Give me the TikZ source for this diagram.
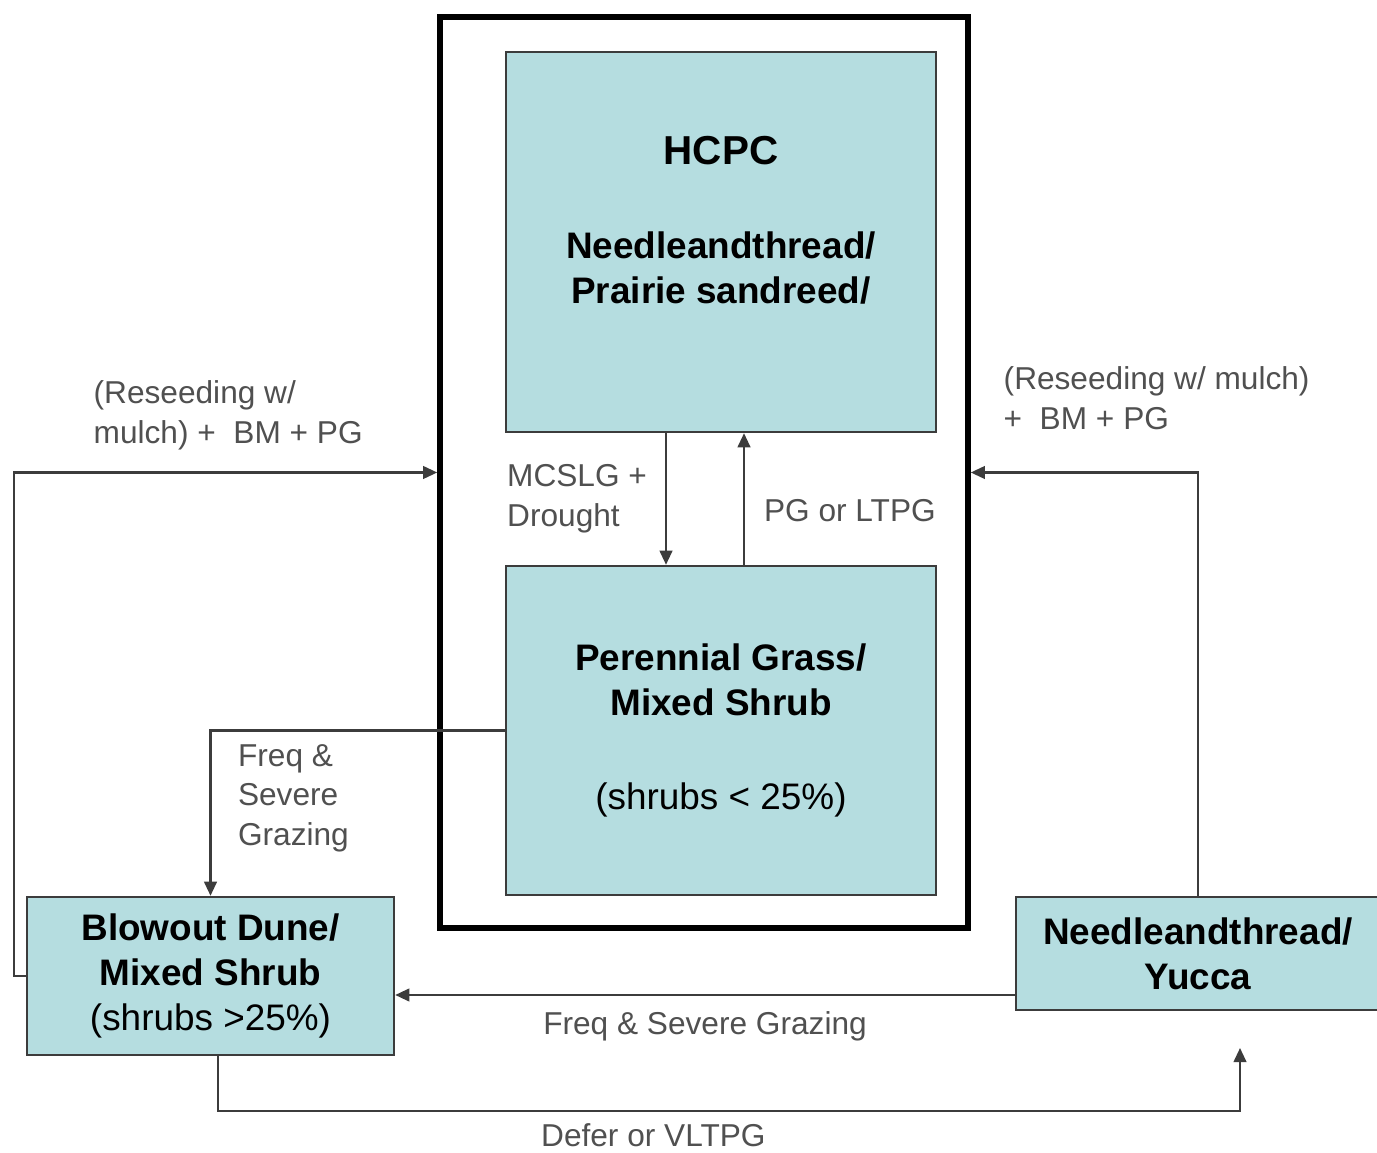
\documentclass[tikz,border=0pt]{standalone}
\usepackage{fontspec}
\setmainfont{Liberation Sans}
\usetikzlibrary{positioning, calc, arrows.meta}
\definecolor{statefill}{HTML}{B5DDE0}
\definecolor{lineclr}{HTML}{3C3C3C}
\definecolor{noteclr}{HTML}{505050}
\tikzset{
  statebox/.style={draw=lineclr, line width=0.7pt, fill=statefill, align=center, font=\fontsize{10.5pt}{12.8pt}\selectfont\bfseries, inner sep=0pt},
  flow/.style={draw=lineclr, line width=0.6pt, -{Triangle[length=4pt,width=3.6pt]}},
  note/.style={text=noteclr, align=left, font=\fontsize{9pt}{11.3pt}\selectfont, inner sep=0pt}
}

\begin{document}
\begin{tikzpicture}
      \useasboundingbox[fill=white] (0,0) rectangle (13.77,-11.53);

      \node[draw, line width=1.6pt, minimum width=5.28cm, minimum height=9.11cm, inner sep=0pt] (frame) at (7.04,-4.725) {};

      \node[statebox, minimum width=4.30cm, minimum height=3.80cm] (hcpc) at (7.21,-2.42) {{\fontsize{11.5pt}{12.8pt}\selectfont HCPC}\\[14pt] Needleandthread/\\ Prairie sandreed/\\ \mbox{}};
      \node[statebox, minimum width=4.30cm, minimum height=3.29cm] (pg) at (7.21,-7.305) {Perennial Grass/\\ Mixed Shrub\\[14pt] \mdseries(shrubs < 25\%)};

      \node[statebox, minimum width=3.67cm, minimum height=1.58cm] (blowout) at (2.105,-9.76) {Blowout Dune/\\ Mixed Shrub\\ \mdseries(shrubs >25\%)};
      \node[statebox, minimum width=3.64cm, minimum height=1.13cm] (yucca) at (11.98,-9.535) {Needleandthread/\\ Yucca};

      \coordinate (deferend) at (12.40,-10.48);

      \draw[flow] ([xshift=-5.5mm]hcpc.south) -- node[note, left=1.8mm] {MCSLG +\\ Drought} ([xshift=-5.5mm]pg.north);
      \draw[flow] ([xshift=2.3mm]pg.north) -- node[note, right=1.9mm, yshift=-1.2mm] {PG or LTPG} ([xshift=2.3mm]hcpc.south);

      \draw[flow] (pg.west) -| node[note, pos=0.75, right=2.65mm, yshift=1.5mm] {Freq \&\\ Severe\\ Grazing} (blowout.north);

      \draw[flow] (blowout.west) -- ++(-0.12,0) |- (frame.west);
      \node[note, anchor=west] (reseedleft) at (0.93,-4.15) {(Reseeding w/\\ mulch) +\ \ BM + PG};

      \draw[flow] (yucca.north) |- (frame.east);
      \node[note, anchor=west] (reseedright) at (10.03,-3.98) {(Reseeding w/ mulch)\\ +\ \ BM + PG};

      \draw[flow] ([yshift=-4.15mm]yucca.west) -- node[note, below=1.6mm] {Freq \& Severe Grazing} ([yshift=-4.15mm]yucca.west -| blowout.east);
      \draw[flow] ([xshift=0.75mm]blowout.south) -- ++(0,-0.55) -| node[note, pos=0.213, below=1.1mm] {Defer or VLTPG} (deferend);
\end{tikzpicture}
\end{document}
